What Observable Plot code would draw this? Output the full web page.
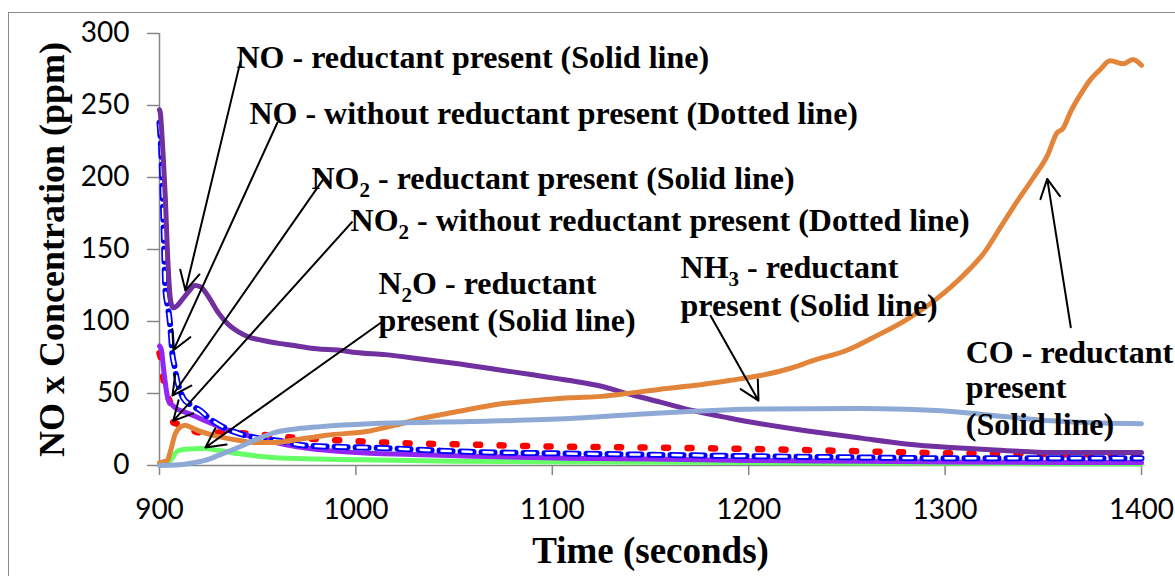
<!DOCTYPE html>
<html>
<head>
<meta charset="utf-8">
<script src="https://cdn.jsdelivr.net/npm/d3@7"></script>
<script src="https://cdn.jsdelivr.net/npm/@observablehq/plot@0.6"></script>
<style>
  html, body { margin: 0; padding: 0; background: #fff; overflow: hidden; width: 1175px; height: 576px; }
  #wrap { position: relative; width: 1175px; height: 576px; }
  #border { position: absolute; left: 8px; top: 12px; width: 1400px; height: 800px; border: 1.5px solid #8a8a8a; box-sizing: border-box; }
  #chart { position: absolute; left: 0; top: 0; }
</style>
</head>
<body>
<div id="wrap"><div id="border"></div><div id="chart"></div></div>
<script>
// ---------- data (time in s, concentration in ppm) ----------
const noSolidT = [900, 900.5, 901, 902, 903, 904, 905, 906, 907, 909, 912, 915, 918, 921, 925, 930, 935, 940, 946, 952, 960, 970, 980, 992, 1000, 1015, 1033, 1050, 1075, 1090, 1109, 1125, 1138, 1155, 1172, 1190, 1206, 1230, 1257, 1280, 1303, 1330, 1354, 1380, 1400];
const noSolidV = [247, 244, 235, 212, 185, 150, 124, 112, 109.5, 111, 116, 121, 125, 124, 117, 106, 98, 93, 89, 87, 85, 83, 81, 80, 78.5, 77, 74, 71, 66, 63, 59, 55, 50, 44, 38, 33, 29, 24, 19, 15, 12.5, 10.5, 9, 9, 9];

const noDotT = [900, 901, 902, 903, 904, 905, 906, 906.5, 907.5, 909, 910.5, 912, 916, 921, 925, 929.5, 935, 941, 950, 961.6, 973, 990, 1016, 1040, 1058, 1100, 1150, 1200, 1257, 1300, 1350, 1400];
const noDotV = [238, 215, 170, 122, 112, 103, 88, 78, 70, 59, 52, 47, 42, 38, 33, 29, 25, 22, 19, 17, 14, 13, 12, 10.5, 9.5, 8.5, 7.5, 6.5, 5.6, 5, 5, 5];

const no2SolidT = [900, 901, 902, 903, 904, 905, 906.5, 908, 911, 915, 920, 925, 932, 940, 949, 956, 970, 985, 1007, 1033, 1060, 1109, 1150, 1200, 1257, 1300, 1400];
const no2SolidV = [83, 80, 68, 57, 48, 44, 42, 40, 38, 36, 33, 30, 26, 22.5, 19.5, 17, 13, 10.5, 8.5, 7.5, 6.5, 5, 4.5, 3.5, 3, 2.5, 2];

const no2DotT = [900, 901, 902, 903, 904.5, 905.5, 906.5, 907, 909, 912, 916, 920, 930, 941, 955, 967, 991, 1024, 1058, 1108, 1150, 1200, 1253, 1300, 1350, 1400];
const no2DotV = [78, 72, 60, 52, 47, 43, 33, 30, 29, 27, 25, 23, 23, 22.5, 21, 19.5, 17.5, 15.5, 14.5, 13, 12.5, 11.5, 10, 8.5, 8, 7.5];

const n2oT = [900, 904, 906.6, 908, 909.6, 915, 923, 930, 940, 957.5, 980, 1000, 1050, 1109, 1200, 1300, 1400];
const n2oV = [1, 1.5, 5.5, 8.5, 10.4, 11.5, 11.8, 10.5, 8.3, 5.6, 4.5, 4, 3, 2.5, 2, 1.5, 1];

const coT = [900, 904, 905.6, 908, 910, 913, 916, 920, 926, 932, 940, 949, 959, 970, 985, 1007, 1020, 1033, 1050, 1075, 1090, 1109, 1125, 1138, 1155, 1172, 1190, 1206, 1220, 1233, 1250, 1265, 1280, 1295, 1310, 1320, 1328, 1335, 1345, 1352, 1357, 1360, 1364, 1370, 1374, 1379, 1384, 1391, 1395.5, 1400];
const coV = [2, 3.5, 10, 22, 26, 28, 26.5, 24, 21.5, 19.5, 17.5, 16, 16, 18, 21, 24, 28, 32.5, 37, 43, 45, 47, 48, 50, 53, 55.5, 59, 62.5, 67, 73, 80, 90, 101, 115, 133, 148, 165, 180, 200, 215, 231, 234, 246, 260, 268, 275, 281, 279, 282, 278];

const nh3T = [900, 910, 915, 923, 930, 940, 950, 959, 970, 982, 1007, 1058, 1109, 1155, 1206, 1257, 1280, 1303, 1330, 1354, 1380, 1400];
const nh3V = [0, 0.5, 1.4, 3.5, 7, 12.5, 18.5, 23, 25.5, 27, 29, 30.5, 32.6, 36.5, 39.3, 39.6, 39, 37.5, 34, 31, 29.5, 29];

// tick values
const xTicks = [900, 1000, 1100, 1200, 1300, 1400];
const yTicks = [0, 50, 100, 150, 200, 250, 300];

// annotation lines (left edge time, vertical-centre ppm)
const labelText = [
  "NO - reductant present (Solid line)",
  "NO - without reductant present (Dotted line)",
  "NO₂ - reductant present (Solid line)",
  "NO₂ - without reductant present (Dotted line)",
  "N₂O - reductant", "present (Solid line)",
  "NH₃ - reductant", "present (Solid line)",
  "CO - reductant", "present", "(Solid line)"
];
const labelX = [939.2, 945.8, 977.4, 997.3, 1011.5, 1011.5, 1165.3, 1165.3, 1310.5, 1310.5, 1310.5];
const labelY = [283, 244, 199, 170, 126, 100.7, 137, 111, 78.5, 54, 28.5];

// annotation arrows (tail -> head)
const arrowX1 = [941.3, 960, 983, 998, 1012.5, 1180.6, 1364];
const arrowY1 = [281, 238, 198, 169, 99, 104, 96];
const arrowX2 = [913.2, 907.1, 906.6, 907, 923.4, 1205, 1352];
const arrowY2 = [121.5, 80, 48.6, 31, 12.5, 45, 199];

// ---------- build ----------
const pts = (t, v) => t.map((x, i) => ({t: x, v: v[i]}));
const labels = labelText.map((s, i) => ({s, x: labelX[i], y: labelY[i]}));
const arrows = arrowX1.map((x1, i) => ({x1, y1: arrowY1[i], x2: arrowX2[i], y2: arrowY2[i]}));

const serif = "'Liberation Serif', 'Times New Roman', serif";
const axisGray = "#868686";
const curve = "monotone-x";

const chart = Plot.plot({
  width: 1175,
  height: 576,
  marginLeft: 159,
  marginRight: 34,
  marginTop: 33,
  marginBottom: 111,
  style: {fontFamily: "Lato, 'Open Sans', sans-serif", fontSize: "28px", color: "#000", background: "transparent"},
  x: {domain: [900, 1400]},
  y: {domain: [0, 300]},
  marks: [
    Plot.axisX({ticks: xTicks, tickSize: 10, tickPadding: 24, stroke: axisGray, strokeWidth: 1.5, label: null, tickFormat: d => String(d), fill: "#000"}),
    Plot.axisY({ticks: yTicks, tickSize: 12, tickPadding: 18, stroke: axisGray, strokeWidth: 1.5, label: null, tickFormat: d => String(d), fill: "#000"}),
    Plot.ruleX([900], {stroke: axisGray, strokeWidth: 1.5}),
    Plot.ruleY([0], {stroke: axisGray, strokeWidth: 1.5}),
    // series
    Plot.line(pts(n2oT, n2oV), {x: "t", y: "v", stroke: "#66FF66", strokeWidth: 5, curve}),
    Plot.line(pts(no2DotT, no2DotV), {x: "t", y: "v", stroke: "#FF0000", strokeWidth: 6.5, strokeLinecap: "round", strokeDasharray: "4,19.5", curve}),
    Plot.line(pts(no2SolidT, no2SolidV), {x: "t", y: "v", stroke: "#9326F5", strokeWidth: 5, curve}),
    Plot.line(pts(noDotT, noDotV), {x: "t", y: "v", stroke: "#0000FF", strokeWidth: 6, strokeDasharray: "13,8", curve}),
    Plot.line(pts(noDotT, noDotV), {x: "t", y: "v", stroke: "#FFFFFF", strokeWidth: 2.5, strokeDasharray: "9,12", strokeDashoffset: -2, curve}),
    Plot.line(pts(noSolidT, noSolidV), {x: "t", y: "v", stroke: "#7030A0", strokeWidth: 5, curve}),
    Plot.line(pts(coT, coV), {x: "t", y: "v", stroke: "#E2853A", strokeWidth: 5, curve}),
    Plot.line(pts(nh3T, nh3V), {x: "t", y: "v", stroke: "#8EA9D6", strokeWidth: 5, curve}),
    // annotations
    Plot.arrow(arrows, {x1: "x1", y1: "y1", x2: "x2", y2: "y2", stroke: "#000", strokeWidth: 2, headLength: 16, headAngle: 55}),
    Plot.text(labels, {x: "x", y: "y", text: "s", textAnchor: "start", fontFamily: serif, fontWeight: "bold", fontSize: 32, fill: "#000"}),
    // axis titles
    Plot.text(["Time (seconds)"], {frameAnchor: "bottom", dy: 97, textAnchor: "middle", fontFamily: serif, fontWeight: "bold", fontSize: 37, fill: "#000"}),
    Plot.text(["NO x Concentration (ppm)"], {frameAnchor: "left", dx: -107, rotate: -90, textAnchor: "middle", fontFamily: serif, fontWeight: "bold", fontSize: 36, fill: "#000"})
  ]
});

// turn subscript characters into real subscripts
const subMap = {"₂": "2", "₃": "3"};
const ns = "http://www.w3.org/2000/svg";
chart.querySelectorAll("text").forEach(t => {
  if (t.children.length) return;
  const s = t.textContent;
  if (!/[₂₃]/.test(s)) return;
  t.textContent = "";
  let buf = "";
  let shifted = false;
  const flush = () => {
    if (!buf) return;
    const ts = document.createElementNS(ns, "tspan");
    if (shifted) { ts.setAttribute("dy", "-8"); shifted = false; }
    ts.textContent = buf;
    t.appendChild(ts);
    buf = "";
  };
  for (const ch of s) {
    if (subMap[ch]) {
      flush();
      const ts = document.createElementNS(ns, "tspan");
      ts.setAttribute("dy", "8");
      ts.setAttribute("font-size", "21");
      ts.textContent = subMap[ch];
      t.appendChild(ts);
      shifted = true;
    } else {
      buf += ch;
    }
  }
  flush();
});

document.getElementById("chart").appendChild(chart);
</script>
</body>
</html>
